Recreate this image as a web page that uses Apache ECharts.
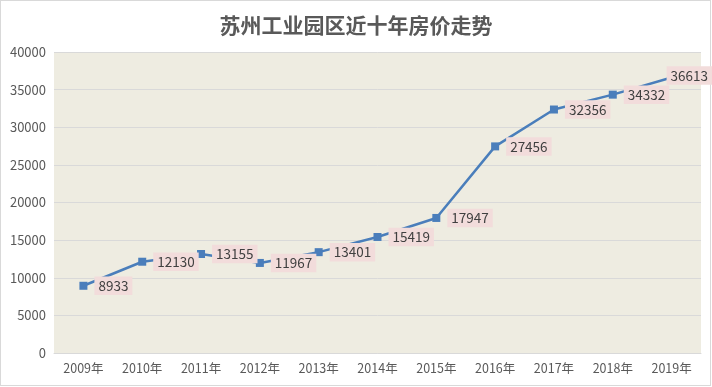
<!DOCTYPE html>
<html><head><meta charset="utf-8">
<script src="https://cdn.jsdelivr.net/npm/echarts@6/dist/echarts.min.js"></script>
<style>
html,body{margin:0;padding:0;background:#fff;}
#frame{position:absolute;left:0;top:0;width:711px;height:386px;box-sizing:border-box;border:1px solid #d9d9d9;}
#c{position:absolute;left:0;top:0;width:712px;height:387px;}
</style></head>
<body>
<div id="frame"></div>
<div id="c"></div>
<script>
var titleText = '苏州工业园区近十年房价走势';
var years = ['2009年','2010年','2011年','2012年','2013年','2014年','2015年','2016年','2017年','2018年','2019年'];
var prices = [8933, 12130, 13155, 11967, 13401, 15419, 17947, 27456, 32356, 34332, 36613];

var font = '"Microsoft YaHei","Noto Sans CJK SC","Noto Sans",sans-serif';
var chart = echarts.init(document.getElementById('c'), null, {renderer:'canvas'});
var seriesData = prices.map(function(v, i){
  var d = {value: v};
  if (i === prices.length - 1) d.label = {offset: [-16, -2]};
  return d;
});
chart.setOption({
  animation: false,
  title: {text: titleText, left: 'center', top: 10,
    textStyle: {fontSize: 21, fontWeight: 'bold', color: '#595959', fontFamily: font}},
  grid: {left: 54, right: 11, top: 52, bottom: 34, show: true, backgroundColor: '#EEECE1', borderWidth: 0},
  xAxis: {type: 'category', data: years, boundaryGap: true,
    axisLine: {lineStyle: {color: '#D9D9D9'}}, axisTick: {show: false},
    axisLabel: {color: '#595959', fontSize: 12.5, fontFamily: font, margin: 9}},
  yAxis: {type: 'value', min: 0, max: 40000, interval: 5000,
    axisLine: {show: false}, axisTick: {show: false},
    splitLine: {lineStyle: {color: '#D9D9D9'}},
    axisLabel: {color: '#595959', fontSize: 13, fontFamily: font, margin: 8,
      formatter: function(v){ return String(v); }}},
  series: [{type: 'line', data: seriesData, symbol: 'rect', symbolSize: 8,
    lineStyle: {color: '#4A7EBB', width: 2.5}, itemStyle: {color: '#4A7EBB'},
    label: {show: true, position: 'right', distance: 7, color: '#404040', fontSize: 13.5,
      fontFamily: font, backgroundColor: '#F2DCDB', padding: [3, 4, 2, 4]}}]
});
</script>
</body></html>
